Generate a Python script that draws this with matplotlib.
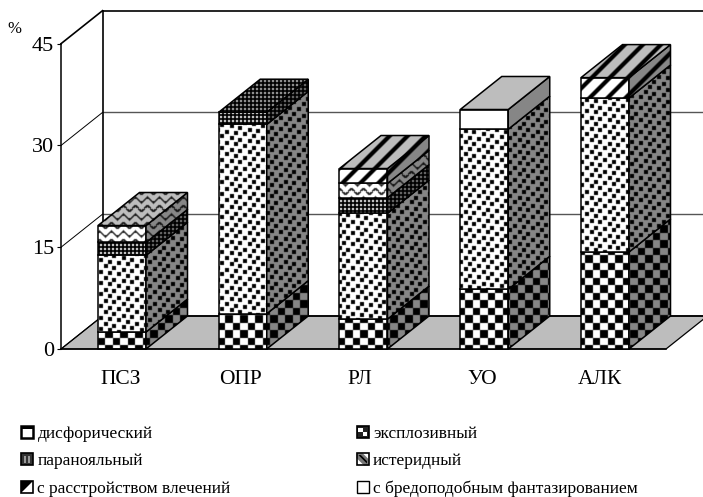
import numpy as np
import matplotlib
matplotlib.use('Agg')
import matplotlib.pyplot as plt
from matplotlib.patches import Polygon, Rectangle, Patch
from matplotlib.legend_handler import HandlerBase
from matplotlib.transforms import Affine2D

plt.rcParams['font.family'] = ['Liberation Serif', 'DejaVu Serif']

categories = ['ПСЗ', 'ОПР', 'РЛ', 'УО', 'АЛК']
dysphoric = [2.5, 5.2, 4.4, 8.8, 14.3]
explosive = [11.3, 27.9, 15.6, 23.6, 22.7]
paranoid = [1.9, 1.8, 2.3, 0, 0]
hysteroid = [2.5, 0, 2.1, 0, 0]
drives = [0, 0, 2.2, 0, 3.0]
fantasy = [0, 0, 0, 2.9, 0]
labels = ['дисфорический', 'эксплозивный', 'паранояльный', 'истеридный',
          'с расстройством влечений', 'с бредоподобным фантазированием']
yticks = [0, 15, 30, 45]

W, H = 703, 497
PX_X = 120.75   # pixels per category
PX_Y = 6.78     # pixels per percent
X0, Y0 = 122, 349
DX = 41.5 / PX_X
DY = 33 / PX_Y
HALF = 24 / PX_X


def soften(m):
    # the scanned original is slightly blurred
    out = m * 0.5
    for axis in (0, 1):
        out = out + 0.125 * (np.roll(m, 1, axis) + np.roll(m, -1, axis))
    return out


def make_patterns():
    yy, xx = np.mgrid[0:H, 0:W]
    checker = (((xx // 7.5).astype(int) + (yy // 7.5).astype(int)) % 2 == 0) * 1.0
    dots = np.zeros((H, W))
    for i in range(-80, 160):
        for j in range(-80, 160):
            cx = round(i * 9 + j * 4.5)
            cy = round(i * 1.5 + j * 6.5)
            if 0 <= cx < W - 4 and 0 <= cy < H - 4:
                dots[cy:cy + 4, cx:cx + 4] = 1
    grid = (~((xx % 4 < 2) & (yy % 4 < 2))) * 1.0
    wave = (np.abs(((yy + 2.4 * np.sin(xx * 2 * np.pi / 12)) % 8.5) - 4) < 1.1) * 0.85
    stripes = (((xx + yy) % 18) < 6) * 1.0
    empty = np.zeros((H, W))
    return [soften(m) for m in (checker, dots, grid, wave, stripes, empty)]


def to_rgba(mask):
    img = np.zeros((H, W, 4))
    img[..., 3] = mask
    return img


class Swatch(HandlerBase):
    # small legend box: white square, black border, a few dark bits inside
    def __init__(self, bits, lw):
        super().__init__()
        self.bits = bits
        self.lw = lw

    def create_artists(self, legend, orig, xd, yd, width, height, fontsize, trans):
        out = [Rectangle((-xd, -yd), width, height, fc='white', ec='none', transform=trans)]
        for pts, color in self.bits:
            scaled = [(-xd + px * width, -yd + py * height) for px, py in pts]
            out.append(Polygon(scaled, closed=True, fc=color, ec='none', transform=trans))
        out.append(Rectangle((-xd, -yd), width, height, fc='none', ec='black', lw=self.lw, transform=trans))
        return out


fig = plt.figure(figsize=(W / 100, H / 100), dpi=100)
ax = fig.add_axes([61 / W, 1 - Y0 / H, (W - 61) / W, (Y0 - 43.7) / H])
ax.set_xlim((61 - X0) / PX_X, (W - X0) / PX_X)
ax.set_ylim(0, 45)
for s in ['top', 'right']:
    ax.spines[s].set_visible(False)
for s in ['left', 'bottom']:
    ax.spines[s].set_linewidth(1.1)

xl = ax.get_xlim()[0]
xr = ax.get_xlim()[1]
extent = ((0 - X0) / PX_X, (W - X0) / PX_X, (Y0 - H) / PX_Y, Y0 / PX_Y)

# floor and back wall
floor_right = (666 - X0) / PX_X
ax.spines['bottom'].set_bounds(xl, floor_right)
ax.add_patch(Polygon([(xl, 0), (floor_right, 0), (floor_right + DX, DY), (xl + DX, DY)],
                     closed=True, fc='#bdbdbd', ec='black', lw=0.9, clip_on=False, zorder=1))
for v in yticks:
    top = v == 45
    ax.plot([xl, xl + DX], [v, v + DY], color='black', lw=1.2 if top else 0.7, clip_on=False, zorder=1)
    if v > 0:
        ax.plot([xl + DX, xr], [v + DY, v + DY], color='black' if top else '#555555',
                lw=1.2 if top else 1.0, clip_on=False, zorder=1)
ax.plot([xl + DX, floor_right + DX], [DY, DY], color='black', lw=1.2, clip_on=False, zorder=1)
ax.plot([xl + DX, xl + DX], [DY, 45 + DY], color='black', lw=1.2, clip_on=False, zorder=1)

series = [dysphoric, explosive, paranoid, hysteroid, drives, fantasy]
patterns = [to_rgba(m) for m in make_patterns()]
z = 2


def face(points, color, pattern):
    global z
    ax.add_patch(Polygon(points, closed=True, fc=color, ec='none', clip_on=False, zorder=z))
    outline = Polygon(points, closed=True, fc='none', ec='black', lw=1.1, clip_on=False, zorder=z + 2)
    ax.add_patch(outline)
    im = ax.imshow(pattern, extent=extent, aspect='auto', interpolation='nearest', origin='upper', zorder=z + 1)
    im.set_clip_box(fig.bbox)
    im.set_clip_path(outline)
    z += 3


for i in range(len(categories)):
    left = i - HALF
    right = i + HALF
    bottom = 0
    last = max(k for k in range(len(series)) if series[k][i] > 0)
    for k, values in enumerate(series):
        v = values[i]
        if v == 0:
            continue
        t = bottom + v
        face([(left, bottom), (right, bottom), (right, t), (left, t)], 'white', patterns[k])
        face([(right, bottom), (right + DX, bottom + DY), (right + DX, t + DY), (right, t)], '#868686', patterns[k])
        if k == last:
            face([(left, t), (right, t), (right + DX, t + DY), (left + DX, t + DY)], '#bdbdbd', patterns[k])
        bottom = t

ax.set_xticks(range(len(categories)))
ax.set_xticklabels(categories, fontsize=15.5)
ax.tick_params(axis='x', length=0, pad=15)
for lab, shift in zip(ax.get_xticklabels(), [-1, -2.5, -3.5, -2, -5]):
    lab.set_transform(lab.get_transform() + Affine2D().translate(shift, 0))
ax.set_yticks(yticks)
ax.tick_params(axis='y', length=3, pad=2, labelsize=16)
ax.text(-0.073, 1.048, '%', transform=ax.transAxes, fontsize=12, ha='center', va='center')

boxes = [
    Swatch([([(0, 0.72), (1, 0.72), (1, 1), (0, 1)], 'black')], 1.8),
    Swatch([([(0, 0), (1, 0), (1, 1), (0, 1)], '#222222'),
            ([(0.15, 0.5), (0.5, 0.5), (0.5, 0.85), (0.15, 0.85)], 'white'),
            ([(0.55, 0.15), (0.85, 0.15), (0.85, 0.5), (0.55, 0.5)], 'white')], 1.2),
    Swatch([([(0, 0), (1, 0), (1, 1), (0, 1)], '#333333'),
            ([(0.25, 0.2), (0.42, 0.2), (0.42, 0.8), (0.25, 0.8)], '#999999'),
            ([(0.58, 0.2), (0.75, 0.2), (0.75, 0.8), (0.58, 0.8)], '#999999')], 1.2),
    Swatch([([(0, 1), (0.5, 1), (1, 0.5), (1, 0), (0.6, 0), (0, 0.6)], '#777777'),
            ([(0.15, 0.85), (0.35, 0.85), (0.85, 0.35), (0.85, 0.15)], 'black')], 1.2),
    Swatch([([(0, 0), (0, 1), (1, 1)], 'black')], 1.2),
    Swatch([], 1.0),
]
order = [0, 2, 4, 1, 3, 5]
handles = [Patch() for k in range(6)]
fig.legend([handles[k] for k in order], [labels[k] for k in order], ncol=2, frameon=False,
           handler_map={handles[k]: boxes[k] for k in range(6)},
           loc='lower left', bbox_to_anchor=(21 / W, 0.0), fontsize=12.5,
           handlelength=0.7, handleheight=0.7, handletextpad=0.25, columnspacing=7.25,
           labelspacing=0.64, borderpad=0, borderaxespad=0)

fig.savefig('out.png', dpi=100)
